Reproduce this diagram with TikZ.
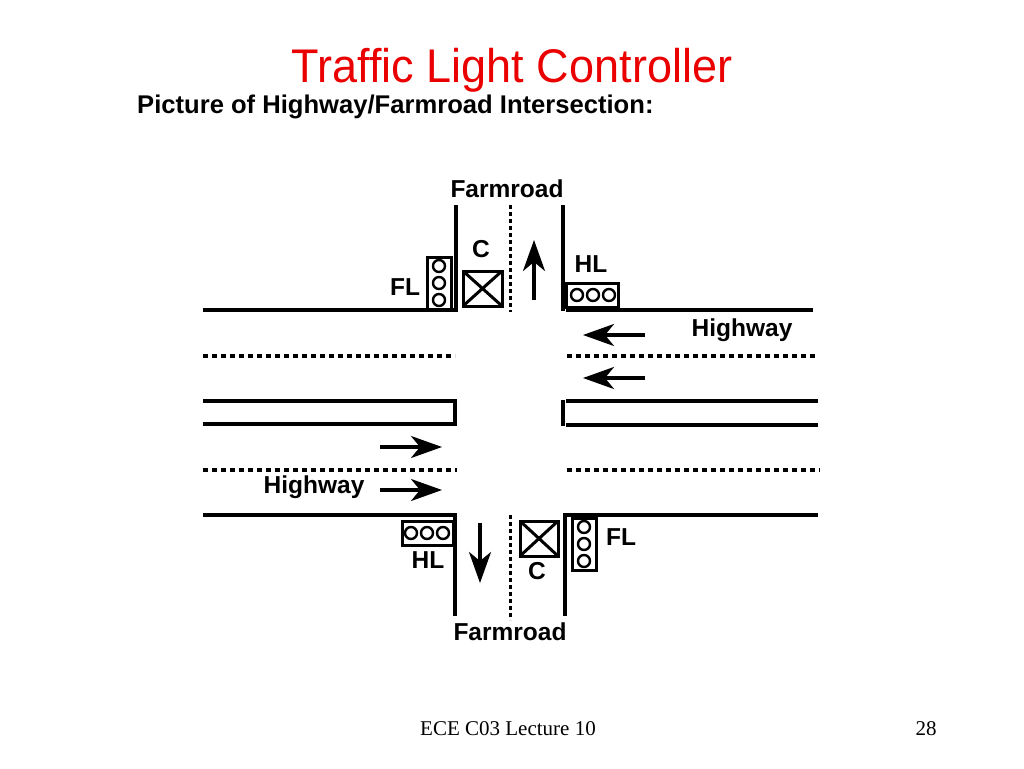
\documentclass[tikz,border=0pt]{standalone}
\usepackage{fontspec}
\setmainfont{Liberation Sans}
\newfontfamily\serifft{Liberation Serif}
\usetikzlibrary{arrows.meta}
\definecolor{titlered}{RGB}{235,0,0}
\begin{document}
\begin{tikzpicture}[x=1pt,y=-1pt,
  road/.style={line width=3.4pt},
  lane/.style={line width=3.4pt,dash pattern=on 5pt off 4pt},
  midline/.style={line width=3pt,dash pattern=on 4pt off 3pt},
  boxline/.style={line width=3pt},
  bulb/.style={line width=2.4pt},
  arr/.style={line width=3.2pt,-{Stealth[length=31pt,width=22pt,inset=9pt]}},
  lbl/.style={font=\bfseries\fontsize{24.5}{24.5}\selectfont,inner sep=0pt}]
\useasboundingbox[fill=white] (0,0) rectangle (1024,768);

% titles
\node[anchor=base,text=titlered,font=\fontsize{45}{45}\selectfont,inner sep=0pt] (title) at (512,82) {\scalebox{1}[1.05]{Traffic Light Controller}};
\node[anchor=base west,font=\bfseries\fontsize{25.6}{25.6}\selectfont,inner sep=0pt] (sub) at (137,113) {Picture of Highway/Farmroad Intersection:};

% farmroad edges
\draw[road] (203,310) -- (456,310) -- (456,205);
\draw[road] (563,205) -- (563,311);
\draw[road] (566,310) -- (813,310);
\draw[road] (203,515) -- (455,515) -- (455,616);
\draw[road] (565,616) -- (565,515) -- (818,515);
\draw[midline] (510,205) -- (510,312);
\draw[midline] (510,515) -- (510,620);

% highway lanes
\draw[lane] (203,356) -- (455,356);
\draw[lane] (567,356) -- (818,356);
\draw[lane] (203,470) -- (457,470);
\draw[lane] (567,470) -- (820,470);
\draw[road] (203,401) -- (455,401) -- (455,424) -- (203,424);
\draw[road] (566,401) -- (818,401);
\draw[road] (566,425) -- (818,425);
\draw[road] (563,400) -- (563,426);

% top-left farm light
\draw[boxline] (427,257) rectangle (451,310);
\foreach \yy in {266,283,300} \draw[bulb] (439,\yy) circle (6);
\node[lbl] (flt) at (405,287) {FL};
% top controller
\draw[boxline] (463,271) rectangle (502,306);
\draw[boxline] (463,271) -- (502,306) (463,306) -- (502,271);
\node[lbl] (ct) at (481,249) {C};
% top arrow
\coordinate (upa) at (534,300);
\coordinate (upb) at (534,240);
\draw[arr] (upa) -- (upb);
% top-right highway light
\draw[boxline] (566,283) rectangle (618,307);
\foreach \xx in {577,593,609} \draw[bulb] (\xx,295) circle (6);
\node[lbl] (hlt) at (591,264) {HL};

% right arrows (westbound)
\coordinate (w1a) at (645,335);
\coordinate (w1b) at (583,335);
\coordinate (w2a) at (645,378);
\coordinate (w2b) at (583,378);
\draw[arr] (w1a) -- (w1b);
\draw[arr] (w2a) -- (w2b);
\node[lbl] (hwr) at (742,330) {Highway};

% left arrows (eastbound)
\coordinate (e1a) at (380,447);
\coordinate (e1b) at (442,447);
\coordinate (e2a) at (380,490);
\coordinate (e2b) at (442,490);
\draw[arr] (e1a) -- (e1b);
\draw[arr] (e2a) -- (e2b);
\node[lbl] (hwl) at (314,487) {Highway};

% bottom-left highway light
\draw[boxline] (402,521) rectangle (453,545);
\foreach \xx in {411,427,443} \draw[bulb] (\xx,533) circle (6);
\node[lbl] (hlb) at (428,560) {HL};
% bottom arrow
\coordinate (dna) at (480,523);
\coordinate (dnb) at (480,583);
\draw[arr] (dna) -- (dnb);
% bottom controller
\draw[boxline] (520,521) rectangle (558,556);
\draw[boxline] (520,521) -- (558,556) (520,556) -- (558,521);
\node[lbl] (cb) at (537,571) {C};
% bottom-right farm light
\draw[boxline] (572,518) rectangle (596,570);
\foreach \yy in {527,544,561} \draw[bulb] (584,\yy) circle (6);
\node[lbl] (flb) at (621,537) {FL};

% farmroad labels
\node[lbl] (frt) at (507,189) {Farmroad};
\node[lbl] (frb) at (510,632) {Farmroad};

% footer
\node[anchor=base,font=\serifft\fontsize{21}{21}\selectfont,inner sep=0pt] (foot) at (508,735) {ECE C03 Lecture 10};
\node[anchor=base,font=\serifft\fontsize{21}{21}\selectfont,inner sep=0pt] (page) at (926,735) {28};
\end{tikzpicture}
\end{document}
